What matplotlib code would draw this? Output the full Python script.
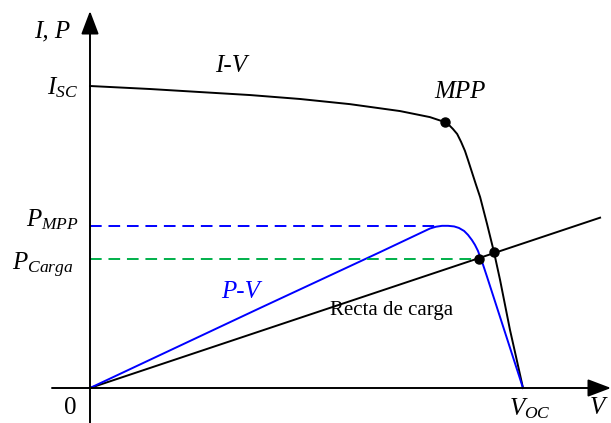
"""Solar cell I-V / P-V schematic with load line (normalized units: V/V_OC, I/I_SC)."""
import matplotlib
matplotlib.use("Agg")
import matplotlib.pyplot as plt

plt.rcParams["font.family"] = ["Liberation Serif", "DejaVu Serif"]
plt.rcParams["mathtext.fontset"] = "custom"
plt.rcParams["mathtext.it"] = "Liberation Serif:italic"
plt.rcParams["mathtext.rm"] = "Liberation Serif"

# ---- data (V in units of V_OC, I/P in units of I_SC) ----
iv_v = [0.0, 0.139, 0.254, 0.370, 0.485, 0.600, 0.716, 0.785, 0.808, 0.820,
        0.829, 0.838, 0.848, 0.857, 0.866, 0.873, 0.882, 0.891, 0.901,
        0.917, 0.933, 0.947, 0.970, 0.984, 1.0]
iv_i = [1.0, 0.990, 0.980, 0.970, 0.957, 0.940, 0.917, 0.897, 0.886, 0.881,
        0.871, 0.858, 0.841, 0.815, 0.785, 0.755, 0.715, 0.675, 0.632,
        0.543, 0.450, 0.358, 0.192, 0.103, 0.0]

pv_v = [0.0, 0.393, 0.670, 0.785, 0.799, 0.813, 0.827, 0.841, 0.852, 0.864,
        0.873, 0.882, 0.889, 0.896, 0.901, 0.908, 0.917, 1.0]
pv_p = [0.0, 0.265, 0.450, 0.528, 0.534, 0.537, 0.537, 0.535, 0.530, 0.520,
        0.507, 0.490, 0.474, 0.454, 0.434, 0.407, 0.368, 0.0]

load_v = [0.0, 1.178]
load_i = [0.0, 0.564]

mpp_v, mpp_i = 0.820, 0.881
op_v, op_i = 0.933, 0.450          # I-V / load line crossing
carga_v, p_carga = 0.898, 0.427    # P-V / load operating power
p_mpp, p_mpp_end = 0.537, 0.808

# ---- figure: one axes filling the canvas ------------------------------------
fig = plt.figure(figsize=(6.11, 4.23), dpi=100)
ax = fig.add_axes([0, 0, 1, 1])
ax.set_xlim(-90 / 433, 521 / 433)
ax.set_ylim(-35 / 302, 388 / 302)
ax.axis("off")

lw = 1.4
# axes with arrow heads
arrow = dict(arrowstyle="-|>,head_length=0.95,head_width=0.36",
             mutation_scale=15, color="black", lw=lw, shrinkA=0, shrinkB=0)
ax.annotate("", xy=(0, 377 / 302), xytext=(0, -35 / 302), arrowprops=arrow)
ax.annotate("", xy=(521 / 433, 0), xytext=(-38 / 433, 0), arrowprops=arrow)

ax.plot(iv_v, iv_i, color="black", lw=lw, solid_joinstyle="round")
ax.plot(load_v, load_i, color="black", lw=lw)
ax.plot(pv_v, pv_p, color="#0000ff", lw=lw, solid_joinstyle="round")

ax.plot([0, p_mpp_end], [p_mpp, p_mpp], color="#0000ff", lw=lw,
        dashes=(6, 3.5))
ax.plot([0, carga_v], [p_carga, p_carga], color="#00b04a", lw=lw,
        dashes=(6, 3.5))

ax.plot([mpp_v, op_v, carga_v], [mpp_i, op_i, p_carga], "o", color="black",
        ms=6.5)

fs = 18
ax.text(-38 / 433, 357 / 302, "I, P", fontsize=fs, style="italic",
        ha="center", va="center")
ax.text(-12 / 433, 0.995, "$I_{SC}$", fontsize=fs, ha="right", va="center")
ax.text(-11 / 433, p_mpp + 0.02, "$P_{MPP}$", fontsize=fs, ha="right",
        va="center")
ax.text(-17 / 433, p_carga - 0.02, "$P_{Carga}$", fontsize=fs, ha="right",
        va="center")
ax.text(0.326, 1.065, "I-V", fontsize=fs, style="italic", ha="center",
        va="center")
ax.text(mpp_v + 0.035, 0.98, "MPP", fontsize=fs, style="italic",
        ha="center", va="center")
ax.text(0.347, 0.318, "P-V", fontsize=fs, style="italic", color="#0000ff",
        ha="center", va="center")
ax.text(0.697, 0.255, "Recta de carga", fontsize=15, ha="center",
        va="center")
ax.text(-20 / 433, -0.065, "0", fontsize=fs, ha="center", va="center")
ax.text(1.017, -0.07, "$V_{OC}$", fontsize=fs, ha="center", va="center")
ax.text(509 / 433, -0.065, "$V$", fontsize=fs, ha="center", va="center")

fig.savefig("out.png", dpi=100)
